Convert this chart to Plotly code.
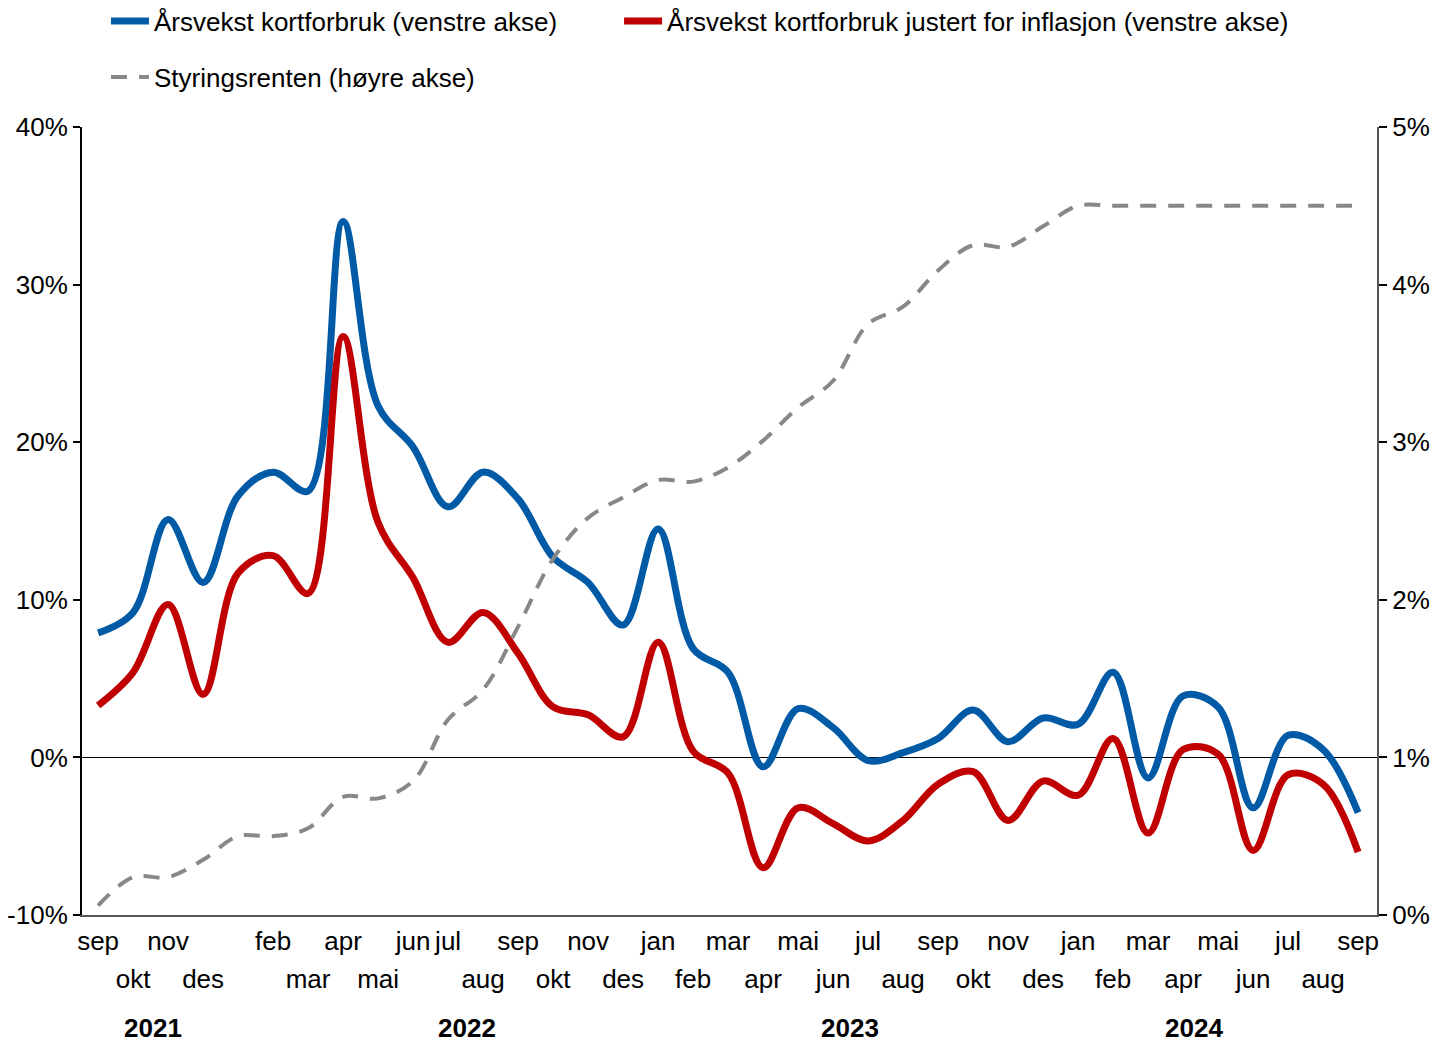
import plotly.graph_objects as go

# månedlige observasjoner sep 2021 - sep 2024
months = ["sep", "okt", "nov", "des",
          "jan", "feb", "mar", "apr", "mai", "jun", "jul", "aug", "sep", "okt", "nov", "des",
          "jan", "feb", "mar", "apr", "mai", "jun", "jul", "aug", "sep", "okt", "nov", "des",
          "jan", "feb", "mar", "apr", "mai", "jun", "jul", "aug", "sep"]

kortforbruk = [7.9, 9.2, 15.1, 11.1, 16.6, 18.1, 16.9, 34.0, 22.3, 19.7, 15.9, 18.1,
               16.4, 12.7, 11.1, 8.4, 14.5, 6.9, 5.4, -0.6, 3.1, 1.9, -0.2, 0.3,
               1.2, 3.0, 1.0, 2.5, 2.1, 5.4, -1.3, 3.9, 3.2, -3.2, 1.4, 0.5, -3.5]

kortforbruk_realt = [3.3, 5.4, 9.7, 4.0, 11.7, 12.8, 10.4, 26.7, 14.9, 11.4, 7.3, 9.2,
                     6.6, 3.2, 2.7, 1.3, 7.3, 0.4, -1.0, -7.0, -3.2, -4.2, -5.3, -4.0,
                     -1.7, -0.9, -4.0, -1.5, -2.4, 1.2, -4.8, 0.5, 0.2, -5.9, -1.1, -1.7, -6.0]

styringsrente = [0.06, 0.24, 0.24, 0.35, 0.50, 0.50, 0.55, 0.75, 0.74, 0.85, 1.24, 1.43,
                 1.83, 2.26, 2.52, 2.65, 2.76, 2.75, 2.84, 3.01, 3.22, 3.39, 3.75, 3.86,
                 4.09, 4.25, 4.24, 4.37, 4.50, 4.50, 4.50, 4.50, 4.50, 4.50, 4.50, 4.50, 4.50]

years = ["2021", "2022", "2023", "2024"]
left_ticks = [-10, 0, 10, 20, 30, 40]
left_ticktext = ["-10%", "0%", "10%", "20%", "30%", "40%"]

# hvilke månedsetiketter som står i øverste og nederste rad
top_row = [0, 2, 5, 7, 9, 10, 12, 14, 16, 18, 20, 22, 24, 26, 28, 30, 32, 34, 36]
bottom_row = [1, 3, 6, 8, 11, 13, 15, 17, 19, 21, 23, 25, 27, 29, 31, 33, 35]

FONT = "Liberation Sans, Arial, sans-serif"
FS = 26
x = list(range(len(months)))
xrange = [-0.46, len(months) - 1 + 0.54]

fig = go.Figure()
fig.add_trace(go.Scatter(x=x, y=kortforbruk, name="Årsvekst kortforbruk (venstre akse)",
                         mode="lines", line=dict(color="#005AA5", width=7, shape="spline", smoothing=1),
                         legend="legend"))
fig.add_trace(go.Scatter(x=x, y=kortforbruk_realt,
                         name="Årsvekst kortforbruk justert for inflasjon (venstre akse)",
                         mode="lines", line=dict(color="#C00000", width=7, shape="spline", smoothing=1),
                         legend="legend2"))
fig.add_trace(go.Scatter(x=x, y=styringsrente, name="Styringsrenten (høyre akse)", yaxis="y2",
                         mode="lines", line=dict(color="#888888", width=4, dash="16px,12px",
                                                 shape="spline", smoothing=1),
                         legend="legend3"))
# tom serie som bare bærer den nederste raden med månedsnavn
fig.add_trace(go.Scatter(x=x, y=[None] * len(x), xaxis="x2", showlegend=False, hoverinfo="skip"))

for i, yr in enumerate(years):
    fig.add_annotation(x=[1.57, 10.53, 21.47, 31.3][i], y=-113 / 788, xref="x", yref="paper",
                       text="<b>" + yr + "</b>", showarrow=False, yanchor="middle",
                       font=dict(size=26, color="black", family=FONT))

legend_common = dict(orientation="h", xref="container", yref="container", xanchor="left",
                     yanchor="middle", font=dict(size=FS), bgcolor="rgba(0,0,0,0)", itemwidth=38)

fig.update_layout(
    width=1434, height=1043,
    margin=dict(l=82, r=57, t=127, b=128, autoexpand=False),
    paper_bgcolor="white", plot_bgcolor="white",
    font=dict(family=FONT, size=FS, color="black"),
    xaxis=dict(range=xrange, tickmode="array", tickvals=top_row,
               ticktext=[months[i] for i in top_row], ticks="", showgrid=False, zeroline=False,
               showline=True, linecolor="#555555", linewidth=2, ticklabelstandoff=2,
               automargin=False),
    xaxis2=dict(range=xrange, overlaying="x", anchor="y", side="bottom", tickmode="array",
                tickvals=bottom_row, ticktext=[months[i] for i in bottom_row], ticks="",
                showgrid=False, zeroline=False, showline=False, ticklabelstandoff=46,
                automargin=False),
    yaxis=dict(range=[-10, 40], tickmode="array", tickvals=left_ticks, ticktext=left_ticktext,
               ticks="outside", ticklen=7, tickcolor="black", tickwidth=2, showline=True,
               linecolor="black", linewidth=2, showgrid=False, zeroline=True,
               zerolinecolor="black", zerolinewidth=1, automargin=False),
    yaxis2=dict(range=[0, 5], dtick=1, ticksuffix="%", overlaying="y", side="right",
                ticks="outside", ticklen=8, tickcolor="black", tickwidth=2, showline=True,
                linecolor="#555555", linewidth=2, showgrid=False, zeroline=False,
                automargin=False),
    legend=dict(x=0.0739, y=1 - 21 / 1043, **legend_common),
    legend2=dict(x=0.4317, y=1 - 21 / 1043, **legend_common),
    legend3=dict(x=0.0739, y=1 - 77 / 1043, **legend_common),
)

fig.write_html("out.html", config={"displayModeBar": False},
               post_script="document.body.style.margin='0';")
